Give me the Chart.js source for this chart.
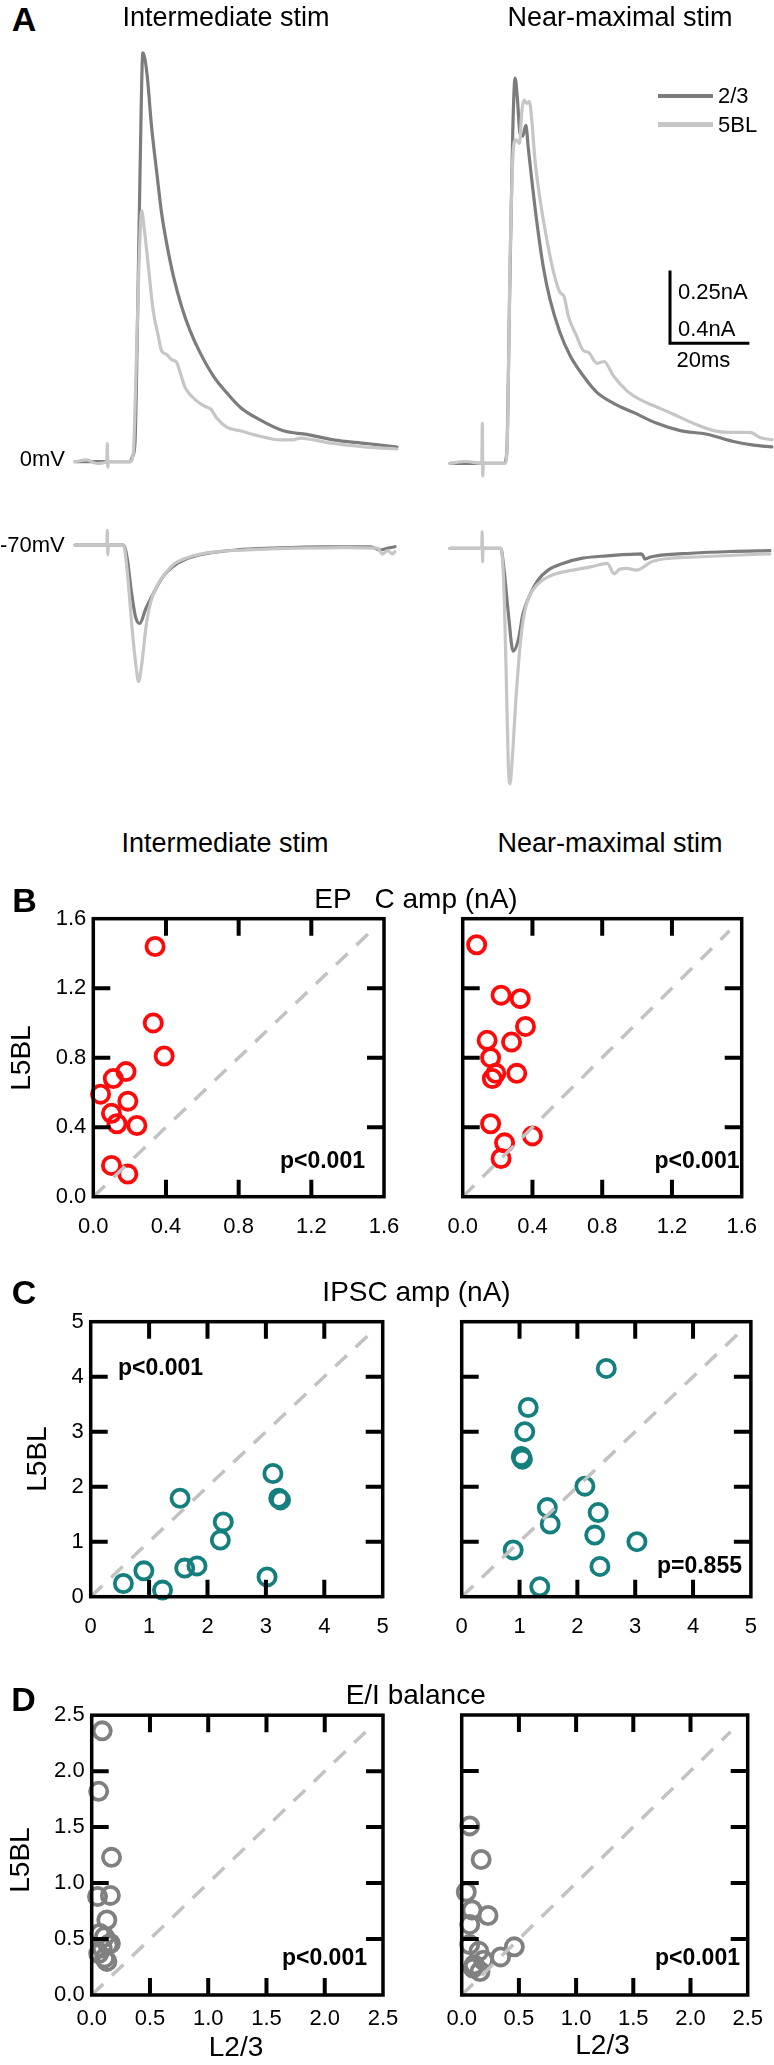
<!DOCTYPE html>
<html><head><meta charset="utf-8">
<script src="https://cdn.jsdelivr.net/npm/chart.js@4.4.1/dist/chart.umd.min.js"></script>
<style>
html,body{margin:0;padding:0;background:#fff;}
#page{position:relative;width:774px;height:2065px;overflow:hidden;background:#fff;font-family:"Liberation Sans",Arial,sans-serif;color:#000;}
canvas{position:absolute;}
.t{position:absolute;line-height:1;white-space:pre;}
</style></head><body><div id="page"></div>
<script>
// ================= DATA =================
// Panel A traces: time (ms) and current (nA); top = 0 mV (IPSC), bottom = -70 mV (EPSC)
const ipscIntT_23 = [0,6.3,13.9,14.5,15.1,15.7,16.4,17.1,18.1,19.3,20.6,21.8,23.1,24.8,26.9,29.0,31.5,34.9,38.2,41.6,46.6,52.5,58.4,65.1,73.5,81.1];
const ipscIntI_23 = [0,0,0,0.03,0.10,0.71,1.62,2.25,2.14,1.84,1.59,1.37,1.20,1.02,0.85,0.72,0.60,0.47,0.38,0.30,0.23,0.17,0.15,0.12,0.10,0.08];
const ipscIntT_5  = [0,2.9,5.5,8.0,8.15,8.25,8.4,13.9,14.7,15.4,16.1,16.8,17.4,18.5,19.7,21.0,21.8,23.1,24.4,25.5,26.5,27.7,29.4,31.5,33.2,34.2,35.7,38.2,41.6,46.6,51.7,55.0,56.7,60.1,65.1,69.3,73.5,81.1];
const ipscIntI_5  = [0,0.01,-0.01,0,0.10,-0.03,0,0,0.05,0.52,1.07,1.38,1.29,1.07,0.83,0.69,0.61,0.59,0.56,0.55,0.49,0.41,0.36,0.32,0.30,0.29,0.24,0.19,0.17,0.14,0.12,0.12,0.13,0.12,0.10,0.09,0.08,0.07];

const ipscMaxT_23 = [0,13.6,14.3,15.0,15.8,16.4,17.0,17.6,18.3,19.1,19.7,20.6,21.8,23.5,25.2,27.7,30.3,33.6,37.0,41.2,46.2,52.1,58.0,64.7,71.4,76.5,81.1];
const ipscMaxI_23 = [0,0,0.06,0.90,1.82,2.12,2.00,1.82,1.80,1.86,1.74,1.56,1.34,1.08,0.90,0.72,0.59,0.48,0.39,0.33,0.28,0.22,0.18,0.16,0.12,0.10,0.09];
const ipscMaxT_5  = [0,4.0,8.0,8.15,8.25,8.4,13.9,14.5,15.1,16.0,16.6,17.5,18.1,18.7,19.3,20.0,20.6,21.4,22.7,24.4,26.1,27.7,28.7,29.8,31.9,33.6,34.9,37.0,38.8,41.2,44.5,47.9,52.1,56.3,61.3,66.4,70.6,75.6,78.2,81.1];
const ipscMaxI_5  = [0,0.01,0,0.22,-0.07,0,0,0.17,1.08,1.74,1.78,1.76,1.94,2.00,1.98,1.99,1.89,1.67,1.45,1.23,1.05,0.94,0.92,0.81,0.70,0.62,0.61,0.55,0.56,0.48,0.40,0.35,0.31,0.27,0.22,0.18,0.17,0.17,0.14,0.13];

const epscIntT_23 = [0,12.2,13.2,14.1,15.3,16.3,17.8,19.6,22.1,24.6,28.4,33.3,40.8,49.5,61.9,74.4,76.8,78.7,80.6];
const epscIntI_23 = [0,0,-0.05,-0.15,-0.25,-0.27,-0.22,-0.17,-0.11,-0.075,-0.046,-0.029,-0.017,-0.011,-0.006,-0.006,-0.017,-0.011,-0.006];
const epscIntT_5  = [0,8.0,8.15,8.25,8.4,12.2,13.2,14.4,15.4,16.0,16.9,17.9,19.0,20.7,22.8,25.2,29.6,35.8,43.3,55.7,68.1,76.2,77.5,78.7,79.9,80.6];
const epscIntI_5  = [0,0,0.05,-0.034,0,0,-0.097,-0.29,-0.42,-0.47,-0.40,-0.28,-0.20,-0.14,-0.097,-0.063,-0.038,-0.023,-0.017,-0.011,-0.009,-0.011,-0.031,-0.019,-0.031,-0.023];

const epscMaxT_23 = [0,12.8,13.7,14.7,15.9,17.2,18.4,20.3,22.2,24.7,28.4,33.4,39.6,48.3,49.1,50.3,52.0,60.7,70.7,80.6];
const epscMaxI_23 = [0,0,-0.086,-0.224,-0.354,-0.315,-0.224,-0.155,-0.109,-0.075,-0.052,-0.034,-0.026,-0.019,-0.037,-0.031,-0.026,-0.017,-0.011,-0.008];
const epscMaxT_5  = [0,8.0,8.1,8.2,8.3,12.8,13.5,14.1,14.7,15.1,15.7,16.6,17.8,19.1,20.9,23.4,27.1,30.9,35.8,39.6,41.4,42.7,44.5,47.0,50.8,55.7,63.2,73.1,80.6];
const epscMaxI_5  = [0,0,0.057,-0.046,0,0,-0.109,-0.40,-0.75,-0.81,-0.72,-0.52,-0.315,-0.20,-0.143,-0.109,-0.086,-0.075,-0.063,-0.052,-0.088,-0.072,-0.069,-0.075,-0.046,-0.034,-0.029,-0.023,-0.019];

const scaleBarMs = 20;
const scaleBarNA = 0.4;
const legendLabels = ["2/3", "5BL"];

// Panel B: EPSC amplitude (nA), x = L2/3, y = L5BL
const epscIntL23 = [0.34,0.33,0.39,0.18,0.11,0.04,0.19,0.10,0.13,0.24,0.10,0.19];
const epscIntL5  = [1.44,1.00,0.81,0.72,0.68,0.59,0.55,0.48,0.42,0.41,0.18,0.13];
const epscMaxL23 = [0.08,0.22,0.33,0.36,0.14,0.28,0.16,0.19,0.17,0.31,0.16,0.40,0.24,0.22];
const epscMaxL5  = [1.45,1.16,1.14,0.98,0.90,0.89,0.80,0.71,0.68,0.71,0.42,0.35,0.31,0.22];

// Panel C: IPSC amplitude (nA)
const ipscIntL23 = [0.56,0.91,1.23,1.53,1.61,1.82,2.22,2.27,3.02,3.12,3.22,3.25];
const ipscIntL5  = [0.24,0.47,0.12,1.79,0.52,0.56,1.03,1.36,0.36,2.24,1.79,1.76];
const ipscMaxL23 = [2.50,1.15,1.09,1.03,1.05,2.13,1.48,1.53,2.36,2.30,3.03,0.89,2.39,1.35];
const ipscMaxL5  = [4.15,3.44,3.00,2.55,2.50,2.01,1.62,1.32,1.53,1.12,1.00,0.85,0.55,0.18];

// Panel D: E/I balance
const eiIntL23 = [0.09,0.06,0.17,0.05,0.16,0.13,0.07,0.11,0.14,0.09,0.06,0.11,0.13,0.16];
const eiIntL5  = [2.36,1.82,1.23,0.88,0.89,0.67,0.55,0.52,0.45,0.42,0.37,0.33,0.30,0.46];
const eiMaxL23 = [0.07,0.17,0.04,0.09,0.23,0.07,0.07,0.15,0.46,0.34,0.19,0.11,0.16,0.10];
const eiMaxL5  = [1.51,1.21,0.92,0.76,0.71,0.63,0.45,0.39,0.43,0.34,0.31,0.27,0.21,0.24];

// Axis ticks
const bTicks = [0,0.4,0.8,1.2,1.6];
const bTickLabels = ["0.0","0.4","0.8","1.2","1.6"];
const cTicks = [0,1,2,3,4,5];
const cTickLabels = ["0","1","2","3","4","5"];
const dTicks = [0,0.5,1,1.5,2,2.5];
const dTickLabels = ["0.0","0.5","1.0","1.5","2.0","2.5"];
const diagonalEnd = {b:1.53, c:4.77, d:2.35};

// ================= STYLE / LAYOUT =================
const FONT = '"Liberation Sans", Arial, sans-serif';
Chart.defaults.font.family = FONT;
const DARK = '#7c7c7c', LIGHT = '#c6c6c6';
const RED = '#ff0a0a', TEAL = '#147f7d', GRAY = '#808080', DIAG = '#c2c2c2';
const page = document.getElementById('page');

function addText(str, x, y, size, o) {
  o = o || {};
  const d = document.createElement('div');
  d.className = 't';
  d.textContent = str;
  d.style.fontSize = size + 'px';
  if (o.bold) d.style.fontWeight = 'bold';
  d.style.left = x + 'px';
  d.style.top = y + 'px';
  const tx = o.align === 'left' ? '0' : (o.align === 'right' ? '-100%' : '-50%');
  d.style.transform = 'translate(' + tx + ',-50%)' + (o.rotate ? ' rotate(' + o.rotate + 'deg)' : '');
  page.appendChild(d);
}
function addRect(x, y, w, h, color) {
  const d = document.createElement('div');
  d.style.position = 'absolute';
  d.style.left = x + 'px'; d.style.top = y + 'px';
  d.style.width = w + 'px'; d.style.height = h + 'px';
  d.style.background = color;
  page.appendChild(d);
}
function mkCanvas(left, top, w, h) {
  const c = document.createElement('canvas');
  c.width = w; c.height = h;
  c.style.left = left + 'px'; c.style.top = top + 'px';
  c.style.width = w + 'px'; c.style.height = h + 'px';
  page.appendChild(c);
  return c;
}
function pts(xs, ys) { return xs.map((x, i) => ({x: x, y: ys[i]})); }

// ---------- trace charts ----------
const PX_PER_MS = 3.97;
const PX_PER_NA_TOP = 181.75;   // 0.4 nA per scale bar
const PX_PER_NA_BOT = 290.8;    // 0.25 nA per scale bar

function traceChart(box, origin, pxY, series, extraPlugins) {
  const c = mkCanvas(box.left, box.top, box.w, box.h);
  return new Chart(c, {
    type: 'scatter',
    data: {datasets: series.map(s => ({
      data: pts(s.t, s.i), showLine: true, borderColor: s.color, backgroundColor: s.color,
      borderWidth: 3.2, pointRadius: 0, cubicInterpolationMode: 'monotone',
      borderJoinStyle: 'round', borderCapStyle: 'round', clip: false
    }))},
    options: {
      responsive: false, animation: false, events: [], devicePixelRatio: 1,
      layout: {padding: 0},
      plugins: {legend: {display: false}, tooltip: {enabled: false}},
      scales: {
        x: {type: 'linear', display: false, min: (box.left - origin.x) / PX_PER_MS, max: (box.left + box.w - origin.x) / PX_PER_MS},
        y: {type: 'linear', display: false, min: (origin.y - box.top - box.h) / pxY, max: (origin.y - box.top) / pxY}
      }
    },
    plugins: extraPlugins || []
  });
}

const SB_ANCHOR = {t: (670 - 450) / PX_PER_MS, i: (463.3 - 343.3) / PX_PER_NA_TOP};
const scaleBarPlugin = {
  id: 'sbar',
  afterDatasetsDraw(chart) {
    const {ctx, scales: {x, y}} = chart;
    const x0 = x.getPixelForValue(SB_ANCHOR.t), x1 = x.getPixelForValue(SB_ANCHOR.t + scaleBarMs);
    const y0 = y.getPixelForValue(SB_ANCHOR.i), y1 = y.getPixelForValue(SB_ANCHOR.i + scaleBarNA);
    ctx.save(); ctx.strokeStyle = '#000'; ctx.lineWidth = 3; ctx.lineCap = 'butt'; ctx.lineJoin = 'miter';
    ctx.beginPath(); ctx.moveTo(x0, y1); ctx.lineTo(x0, y0); ctx.lineTo(x1, y0); ctx.stroke(); ctx.restore();
  }
};

traceChart({left: 55, top: 30, w: 350, h: 450}, {x: 75, y: 461.7}, PX_PER_NA_TOP, [
  {t: ipscIntT_5, i: ipscIntI_5, color: LIGHT},
  {t: ipscIntT_23, i: ipscIntI_23, color: DARK}]);
traceChart({left: 430, top: 30, w: 344, h: 450}, {x: 450, y: 463.3}, PX_PER_NA_TOP, [
  {t: ipscMaxT_5, i: ipscMaxI_5, color: LIGHT},
  {t: ipscMaxT_23, i: ipscMaxI_23, color: DARK}], [scaleBarPlugin]);
traceChart({left: 55, top: 500, w: 350, h: 320}, {x: 75, y: 545}, PX_PER_NA_BOT, [
  {t: epscIntT_5, i: epscIntI_5, color: LIGHT},
  {t: epscIntT_23, i: epscIntI_23, color: DARK}]);
traceChart({left: 430, top: 500, w: 344, h: 320}, {x: 450, y: 548.3}, PX_PER_NA_BOT, [
  {t: epscMaxT_5, i: epscMaxI_5, color: LIGHT},
  {t: epscMaxT_23, i: epscMaxI_23, color: DARK}]);

// ---------- scatter charts ----------
function scatterChart(cfg) {
  const cv = cfg.canvas, a = cfg.area;
  const c = mkCanvas(cv.left, cv.top, cv.w, cv.h);
  const xAxisH = 40;
  const yAxisW = a.l - cv.left;
  const ticks = cfg.ticks, labels = cfg.labels;
  const tmax = ticks[ticks.length - 1];
  const inner = ticks.slice(1, ticks.length - 1);
  const framePlugin = {
    id: 'frame',
    afterDatasetsDraw(chart) {
      const {ctx, chartArea: ca, scales: {x, y}} = chart;
      ctx.save();
      ctx.strokeStyle = '#000';
      ctx.lineWidth = 3.5;
      ctx.lineJoin = 'miter';
      ctx.strokeRect(ca.left, ca.top, ca.right - ca.left, ca.bottom - ca.top);
      ctx.lineWidth = 4; ctx.lineCap = 'butt';
      const TL = 17;
      ctx.beginPath();
      inner.forEach(v => {
        const px = x.getPixelForValue(v), py = y.getPixelForValue(v);
        ctx.moveTo(px, ca.bottom); ctx.lineTo(px, ca.bottom - TL);
        ctx.moveTo(px, ca.top); ctx.lineTo(px, ca.top + TL);
        ctx.moveTo(ca.left, py); ctx.lineTo(ca.left + TL, py);
        ctx.moveTo(ca.right, py); ctx.lineTo(ca.right - TL, py);
      });
      ctx.stroke();
      ctx.restore();
    }
  };
  return new Chart(c, {
    type: 'scatter',
    data: {datasets: [
      {data: [{x: 0, y: 0}, {x: cfg.diag, y: cfg.diag}], showLine: true, borderColor: DIAG, borderWidth: 3.5,
       borderDash: [16, 12], pointRadius: 0, tension: 0, clip: false},
      {data: pts(cfg.xs, cfg.ys), showLine: false, pointRadius: 8.6, pointBorderWidth: 3.8,
       pointBorderColor: cfg.color, borderColor: cfg.color, pointBackgroundColor: 'rgba(0,0,0,0)',
       backgroundColor: 'rgba(0,0,0,0)', clip: false}
    ]},
    options: {
      responsive: false, animation: false, events: [], devicePixelRatio: 1,
      layout: {padding: {left: 0, top: a.t - cv.top, right: cv.left + cv.w - a.r, bottom: cv.top + cv.h - a.b - xAxisH}},
      plugins: {legend: {display: false}, tooltip: {enabled: false}},
      scales: {
        x: {type: 'linear', position: 'bottom', min: 0, max: tmax,
            afterBuildTicks: s => { s.ticks = ticks.map(v => ({value: v})); },
            afterFit: s => { s.height = xAxisH; },
            grid: {display: false, drawTicks: false}, border: {display: false},
            ticks: {callback: (v, i) => labels[i], color: '#000', font: {size: 22, family: FONT},
                    padding: cfg.xPad, autoSkip: false, maxRotation: 0, minRotation: 0}},
        y: {type: 'linear', position: 'left', min: 0, max: tmax,
            afterBuildTicks: s => { s.ticks = ticks.map(v => ({value: v})); },
            afterFit: s => { s.width = yAxisW; },
            grid: {display: false, drawTicks: false}, border: {display: false},
            ticks: {display: cfg.yLabels, callback: (v, i) => labels[i], color: '#000', font: {size: 22, family: FONT},
                    padding: 7, autoSkip: false}}
      }
    },
    plugins: [framePlugin]
  });
}

// B
scatterChart({canvas: {left: 0, top: 895, w: 430, h: 350}, area: {l: 93.3, t: 918.7, r: 384, b: 1196.7},
  xs: epscIntL23, ys: epscIntL5, color: RED, ticks: bTicks, labels: bTickLabels, diag: diagonalEnd.b, yLabels: true, xPad: 17});
scatterChart({canvas: {left: 430, top: 895, w: 344, h: 350}, area: {l: 462.7, t: 918.7, r: 754, b: 1196.7},
  xs: epscMaxL23, ys: epscMaxL5, color: RED, ticks: bTicks, labels: bTickLabels, diag: diagonalEnd.b, yLabels: false, xPad: 17});
// C
scatterChart({canvas: {left: 0, top: 1300, w: 430, h: 350}, area: {l: 90.7, t: 1321.7, r: 382.7, b: 1596.7},
  xs: ipscIntL23, ys: ipscIntL5, color: TEAL, ticks: cTicks, labels: cTickLabels, diag: diagonalEnd.c, yLabels: true, xPad: 17});
scatterChart({canvas: {left: 430, top: 1300, w: 344, h: 350}, area: {l: 461.7, t: 1321.7, r: 751.7, b: 1596.7},
  xs: ipscMaxL23, ys: ipscMaxL5, color: TEAL, ticks: cTicks, labels: cTickLabels, diag: diagonalEnd.c, yLabels: false, xPad: 17});
// D
scatterChart({canvas: {left: 0, top: 1695, w: 430, h: 350}, area: {l: 91.7, t: 1715, r: 383, b: 1995},
  xs: eiIntL23, ys: eiIntL5, color: GRAY, ticks: dTicks, labels: dTickLabels, diag: diagonalEnd.d, yLabels: true, xPad: 11});
scatterChart({canvas: {left: 430, top: 1695, w: 344, h: 350}, area: {l: 461.7, t: 1715, r: 752, b: 1995},
  xs: eiMaxL23, ys: eiMaxL5, color: GRAY, ticks: dTicks, labels: dTickLabels, diag: diagonalEnd.d, yLabels: false, xPad: 11});

// ---------- text ----------
addText('A', 24, 19, 34, {bold: true});
addText('Intermediate stim', 226, 16.5, 27);
addText('Near-maximal stim', 620, 16.5, 27);
addText('0mV', 65, 459, 22, {align: 'right'});
addText('-70mV', 0, 545, 22, {align: 'left'});
// legend
addRect(658, 93.5, 55, 4.5, DARK);
addRect(658, 122, 55, 4.5, LIGHT);
addText(legendLabels[0], 718, 96, 22, {align: 'left'});
addText(legendLabels[1], 718, 124.5, 22, {align: 'left'});
// scale bar labels
addText('0.25nA', 678, 292, 22, {align: 'left'});
addText('0.4nA', 678, 328.5, 22, {align: 'left'});
addText('20ms', 676.5, 360, 22, {align: 'left'});
addText('Intermediate stim', 225, 843, 27);
addText('Near-maximal stim', 610, 843, 27);

addText('B', 24.5, 899.5, 34, {bold: true});
addText('EP   C amp (nA)', 416, 899, 28);
addText('C', 24, 1292, 34, {bold: true});
addText('IPSC amp (nA)', 416.5, 1292, 28);
addText('D', 23.5, 1699, 34, {bold: true});
addText('E/I balance', 415.7, 1695, 28);

addText('L5BL', 21, 1058, 28, {rotate: -90});
addText('L5BL', 36.5, 1459, 28, {rotate: -90});
addText('L5BL', 20, 1860, 28, {rotate: -90});
addText('L2/3', 236, 2046.5, 28);
addText('L2/3', 602.5, 2045, 28);

addText('p<0.001', 365, 1160, 23, {bold: true, align: 'right'});
addText('p<0.001', 739.5, 1160, 23, {bold: true, align: 'right'});
addText('p<0.001', 118, 1366.7, 23, {bold: true, align: 'left'});
addText('p=0.855', 742, 1565, 23, {bold: true, align: 'right'});
addText('p<0.001', 367, 1956.7, 23, {bold: true, align: 'right'});
addText('p<0.001', 740, 1956.7, 23, {bold: true, align: 'right'});
</script></body></html>
